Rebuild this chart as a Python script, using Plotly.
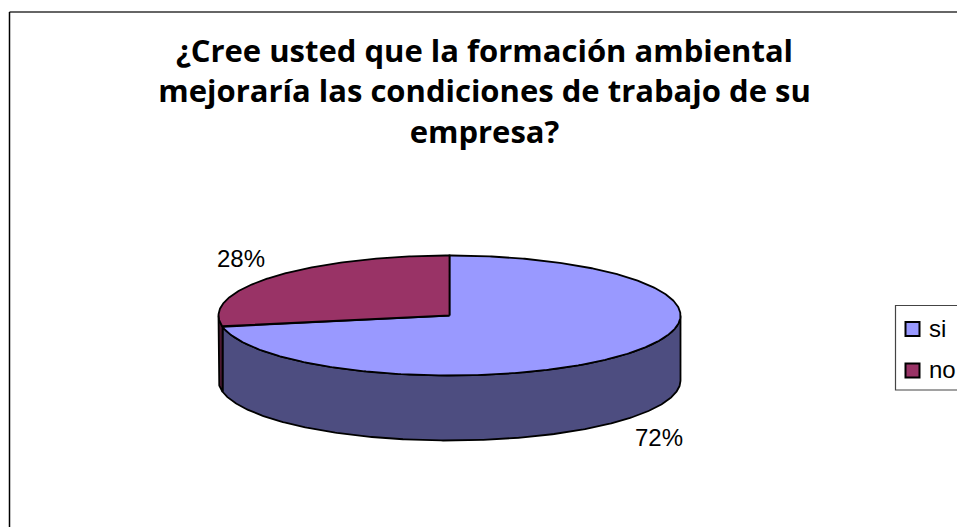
"""3D-look pie chart drawn as filled polygons on pixel-scaled axes."""

import math

import plotly.graph_objects as go

categories = ["si", "no"]
values = [72, 28]
labels = ["72%", "28%"]
top_colors = ["#9999FF", "#993366"]
side_colors = ["#4D4D80", "#4D1A33"]

title_lines = [
    "¿Cree usted que la formación ambiental",
    "mejoraría las condiciones de trabajo de su",
    "empresa?",
]

W, H = 957, 527
CX, CY = 449.5, 315.5     # centre of the top ellipse
RX, RY = 231, 60
DEPTH = 65
EDGE = dict(color="black", width=1.8)
LABEL_FONT = dict(size=24, color="black")


def _pt(deg, drop=0.0):
    """Clockwise from 12 o'clock, on the ellipse, optionally dropped by depth."""
    a = math.radians(deg)
    return CX + RX * math.sin(a), CY - RY * math.cos(a) + drop


def _arc(a0, a1, drop=0.0):
    n = max(2, int(abs(a1 - a0) * 2))
    return [_pt(a0 + (a1 - a0) * t / n, drop) for t in range(n + 1)]


def _poly(points, color, name):
    xs, ys = zip(*points)
    return go.Scatter(x=list(xs) + [xs[0]], y=list(ys) + [ys[0]], mode="lines",
                      fill="toself", fillcolor=color, line=EDGE, name=name,
                      hoverinfo="name", showlegend=False)


fig = go.Figure()

# Slice spans, clockwise from the top.
total = sum(values)
spans = []
start = 0.0
for v in values:
    spans.append((start, start + 360.0 * v / total))
    start += 360.0 * v / total

# Side wall: only the front half (90..270 deg) can be seen.
for (a0, a1), color, name in zip(spans, side_colors, categories):
    lo, hi = max(a0, 90), min(a1, 270)
    if hi > lo:
        fig.add_trace(_poly(_arc(lo, hi) + _arc(hi, lo, DEPTH), color, name))

# Top faces.
for (a0, a1), color, name in zip(spans, top_colors, categories):
    fig.add_trace(_poly([(CX, CY)] + _arc(a0, a1), color, name))

# Legend swatches, sitting on the same axes.
legend_y = [329, 370.5]
fig.add_trace(go.Scatter(
    x=[912.5, 912.5], y=legend_y, mode="markers",
    marker=dict(symbol="square", size=14, color=top_colors,
                line=dict(color="black", width=2)),
    text=categories, hoverinfo="text", showlegend=False))
for name, y in zip(categories, legend_y):
    fig.add_annotation(x=927, y=y - 1, text=name, showarrow=False, xanchor="left",
                       font=LABEL_FONT)

fig.add_annotation(x=241, y=258, text=labels[1], showarrow=False, font=LABEL_FONT)
fig.add_annotation(x=659, y=437, text=labels[0], showarrow=False, font=LABEL_FONT)

shapes = [
    # chart frame: only top and left are inside the picture
    dict(type="line", x0=9.5, x1=W, y0=12, y1=12,
         line=dict(color="#333333", width=1.5)),
    dict(type="line", x0=9.5, x1=9.5, y0=12, y1=H,
         line=dict(color="black", width=1.5)),
    # legend box
    dict(type="rect", x0=895.5, x1=W + 5, y0=305.5, y1=390,
         line=dict(color="#444444", width=1.2), fillcolor="white", layer="below"),
]

fig.update_layout(
    width=W, height=H,
    margin=dict(l=0, r=0, t=0, b=0),
    paper_bgcolor="white", plot_bgcolor="white",
    font=dict(family="Liberation Sans", color="black"),
    title=dict(text="<br>".join(title_lines), x=484.5 / W, xanchor="center",
               y=1 - 62 / H, yanchor="top",
               font=dict(family="Open Sans", size=31, color="black",
                         weight="bold")),
    xaxis=dict(range=[0, W], visible=False, fixedrange=True),
    yaxis=dict(range=[H, 0], visible=False, fixedrange=True),
    shapes=shapes,
    showlegend=False,
)

# the page's default body margin would shift everything by 8px
fig.write_html("out.html", config=dict(displayModeBar=False),
               post_script="document.body.style.margin = '0';")
